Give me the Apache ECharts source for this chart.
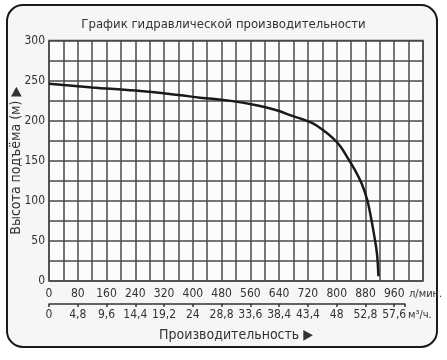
<!DOCTYPE html>
<html>
<head>
<meta charset="utf-8">
<script src="https://cdn.jsdelivr.net/npm/echarts@6/dist/echarts.min.js"></script>
<style>
html,body{margin:0;padding:0;background:#fff;}
#c{width:447px;height:360px;}
</style>
</head>
<body>
<div id="c"></div>
<script>
var titleText = 'График гидравлической производительности';
var yName = 'Высота подъёма (м) ▶';
var xName = 'Производительность ▶';
var unitLpm = 'л/мин.';
var unitM3h = 'м³/ч.';
var flowLpm = [0, 120, 240, 360, 420, 500, 580, 640, 670, 700, 730, 760, 790, 810, 830, 850, 870, 885, 895, 905, 912, 916];
var headM =   [246, 241.5, 237.5, 232, 228.7, 225, 219, 212, 207, 202.5, 197.5, 189, 178, 168, 154, 139, 121, 101, 80, 55, 34, 6];
var lpmTicks = [0, 80, 160, 240, 320, 400, 480, 560, 640, 720, 800, 880, 960];
var m3hLabels = ['0', '4,8', '9,6', '14,4', '19,2', '24', '28,8', '33,6', '38,4', '43,4', '48', '52,8', '57,6'];
var yTicks = [0, 50, 100, 150, 200, 250, 300];

var FONT = '"Liberation Sans Narrow", "DejaVu Sans Condensed", "Liberation Sans", sans-serif';
var TXT = '#333';
var chart = echarts.init(document.getElementById('c'));
var points = flowLpm.map(function (f, i) { return [f, headM[i]]; });

chart.setOption({
  animation: false,
  backgroundColor: '#fff',
  graphic: [{
    type: 'rect', z: -10, silent: true,
    shape: { x: 7, y: 5, width: 430, height: 342, r: 16 },
    style: { fill: '#f6f6f6', stroke: '#1a1a1a', lineWidth: 2 }
  }],
  title: {
    text: titleText, left: 'center', top: 13,
    textStyle: { fontFamily: FONT, fontSize: 13, fontWeight: 'normal', color: TXT }
  },
  grid: [
    { left: 49, right: 24, top: 40.5, height: 240.5, outerBoundsMode: 'none', containLabel: false, show: true, backgroundColor: '#fcfcfc', borderColor: '#444', borderWidth: 1.5 },
    { left: 49, width: 356, top: 303, height: 1, outerBoundsMode: 'none', containLabel: false }
  ],
  xAxis: [
    {
      type: 'value', gridIndex: 0, min: 0, max: 1040, interval: 40, position: 'bottom',
      axisLine: { show: false }, axisTick: { show: false },
      splitLine: { show: true, lineStyle: { color: '#4a4a4a', width: 1.5 } },
      axisLabel: {
        margin: 7, fontFamily: FONT, fontSize: 12, color: TXT,
        formatter: function (v) { return lpmTicks.indexOf(v) >= 0 ? String(v) : ''; }
      },
      name: unitLpm, nameLocation: 'end', nameGap: -14, nameMoveOverlap: false,
      nameTextStyle: { fontFamily: FONT, fontSize: 11, color: TXT, verticalAlign: 'top', padding: [8, 0, 0, 0] }
    },
    {
      type: 'value', gridIndex: 1, min: 0, max: 990, interval: 80, position: 'bottom',
      axisLine: { show: true, lineStyle: { color: '#333', width: 1.5 } },
      axisTick: { show: true, length: 3, lineStyle: { color: '#333', width: 1.5 } },
      splitLine: { show: false },
      axisLabel: {
        margin: 5, fontFamily: FONT, fontSize: 12, color: TXT,
        formatter: function (v) { var i = lpmTicks.indexOf(v); return i >= 0 ? m3hLabels[i] : ''; }
      },
      name: unitM3h, nameLocation: 'end', nameGap: 3, nameMoveOverlap: false,
      nameTextStyle: { fontFamily: FONT, fontSize: 11, color: TXT, verticalAlign: 'top', padding: [6, 0, 0, 0] }
    },
    {
      type: 'value', gridIndex: 0, min: 0, max: 1040, position: 'bottom', offset: 0,
      axisLine: { show: false }, axisTick: { show: false }, axisLabel: { show: false }, splitLine: { show: false },
      name: xName, nameLocation: 'middle', nameGap: 47, nameMoveOverlap: false,
      nameTextStyle: { fontFamily: FONT, fontSize: 14, color: TXT }
    }
  ],
  yAxis: [
    {
      type: 'value', gridIndex: 0, min: 0, max: 300, interval: 25,
      axisLine: { show: false }, axisTick: { show: false },
      splitLine: { show: true, lineStyle: { color: '#4a4a4a', width: 1.5 } },
      axisLabel: {
        margin: 4, fontFamily: FONT, fontSize: 12, color: TXT,
        formatter: function (v) { return yTicks.indexOf(v) >= 0 ? String(v) : ''; }
      },
      name: yName, nameLocation: 'middle', nameRotate: 90, nameGap: 26, nameMoveOverlap: false,
      nameTextStyle: { fontFamily: FONT, fontSize: 14, color: TXT }
    },
    { type: 'value', gridIndex: 1, show: false }
  ],
  series: [{
    type: 'line', xAxisIndex: 0, yAxisIndex: 0,
    data: points, smooth: 0.4, showSymbol: false,
    lineStyle: { color: '#1a1a1a', width: 2.5 }
  }]
});
</script>
</body>
</html>
